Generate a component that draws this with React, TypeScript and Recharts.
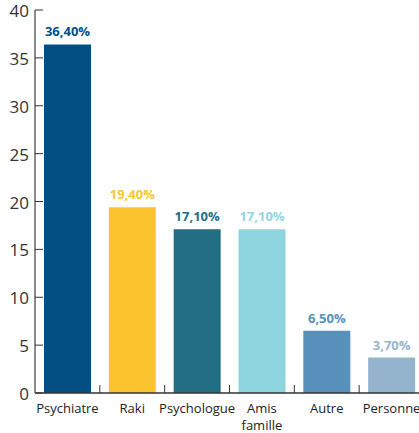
import React from "react";
import { BarChart, Bar, XAxis, YAxis, Cell, LabelList } from "recharts";

const categories = ["Psychiatre", "Raki", "Psychologue", "Amis famille", "Autre", "Personne"];
const values = [36.4, 19.4, 17.1, 17.1, 6.5, 3.7];
const valueLabels = ["36,40%", "19,40%", "17,10%", "17,10%", "6,50%", "3,70%"];
const colors = ["#034f84", "#fcc530", "#236e85", "#8fd5df", "#5790ba", "#94b4ce"];
const yTicks = [0, 5, 10, 15, 20, 25, 30, 35, 40];

const data = categories.map((c, i) => ({ name: c, value: values[i], label: valueLabels[i], color: colors[i] }));

const CHART_W = 424;
const LEFT = 35;
const BW = (CHART_W - LEFT) / categories.length;
const FONT = "'Open Sans', 'Noto Sans', sans-serif";

const XTick = (props: any) => {
  const { x, y, payload, index } = props;
  const lines = String(payload.value).split(" ");
  return (
    <g>
      {index > 0 && <line x1={x - BW / 2} x2={x - BW / 2} y1={y - 8} y2={y} stroke="#333" strokeWidth={1} />}
      {lines.map((l, i) => (
        <text key={i} x={x} y={y + 20 + i * 17} textAnchor="middle" fontSize={13} fill="#222" fontFamily={FONT}>
          {l}
        </text>
      ))}
    </g>
  );
};

const YTick = (props: any) => {
  const { x, y, payload } = props;
  return (
    <g>
      <line x1={x} x2={x + 8} y1={y} y2={y} stroke="#333" strokeWidth={1} />
      <text x={x - 6} y={y + 7} textAnchor="end" fontSize={17} fill="#333" fontFamily={FONT}>
        {payload.value}
      </text>
    </g>
  );
};

const ValueLabel = (props: any) => {
  const { x, y, width, index } = props;
  return (
    <text x={x + width / 2} y={y - 8} textAnchor="middle" fontSize={13} fontWeight="bold" fill={colors[index]} fontFamily={FONT}>
      {valueLabels[index]}
    </text>
  );
};

export default function App() {
  return (
    <div style={{ position: "absolute", left: 0, top: 0, width: 419, height: 433, overflow: "hidden" }}>
      <BarChart
        width={CHART_W}
        height={433}
        data={data}
        margin={{ top: 10, right: 0, left: 0, bottom: 0 }}
        barCategoryGap={9}
      >
        <XAxis
          dataKey="name"
          interval={0}
          tickLine={false}
          tickSize={0}
          tickMargin={0}
          height={40}
          axisLine={{ stroke: "#333", strokeWidth: 1.5 }}
          tick={<XTick />}
        />
        <YAxis
          domain={[0, 40]}
          ticks={yTicks}
          width={LEFT}
          tickLine={false}
          tickSize={0}
          tickMargin={0}
          axisLine={{ stroke: "#8a8a8a", strokeWidth: 2 }}
          tick={<YTick />}
          interval={0}
        />
        <Bar dataKey="value" isAnimationActive={false}>
          {data.map((d, i) => (
            <Cell key={i} fill={d.color} />
          ))}
          <LabelList dataKey="label" content={<ValueLabel />} />
        </Bar>
      </BarChart>
    </div>
  );
}
